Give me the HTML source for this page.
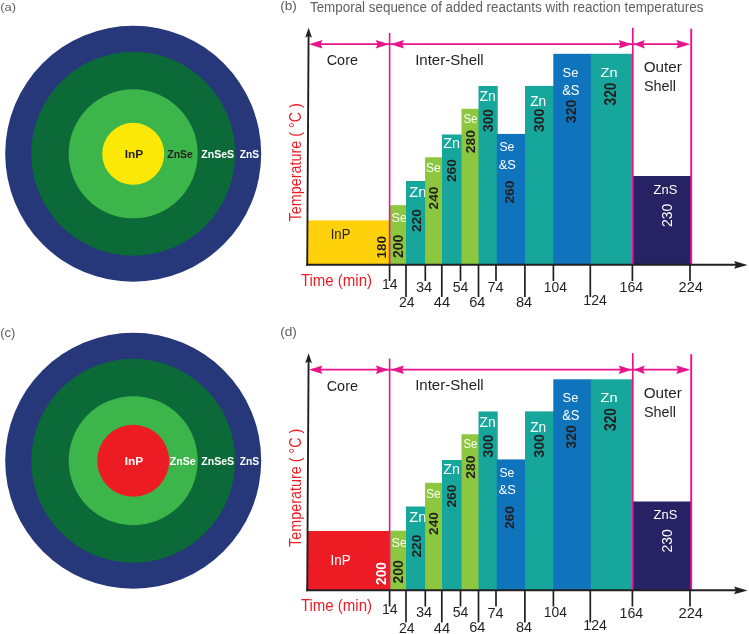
<!DOCTYPE html>
<html><head><meta charset="utf-8"><title>Figure</title>
<style>html,body{margin:0;padding:0;background:#fff;width:749px;height:634px;overflow:hidden}
svg{display:block;will-change:transform}
text{font-family:"Liberation Sans",sans-serif}</style></head>
<body><svg width="749" height="634" viewBox="0 0 749 634">
<rect width="749" height="634" fill="#fff"/>
<circle cx="133.2" cy="153.8" r="128" fill="#26377A"/>
<circle cx="133.2" cy="153.8" r="102" fill="#0B6A38"/>
<circle cx="133.2" cy="153.8" r="64.5" fill="#3CB54A"/>
<circle cx="133.2" cy="153.8" r="31" fill="#FBE806"/>
<text transform="translate(0.22,11.11) scale(1.142,1)" font-size="11.38" font-weight="400" fill="#606060">(a)</text>
<text transform="translate(124.66,158.00) scale(1.069,1)" font-size="11.16" font-weight="700" fill="#231F20">InP</text>
<text transform="translate(167.28,157.79) scale(0.981,1)" font-size="10.70" font-weight="700" fill="#231F20">ZnSe</text>
<text transform="translate(201.28,157.79) scale(0.986,1)" font-size="10.70" font-weight="700" fill="#FFFFFF">ZnSeS</text>
<text transform="translate(239.69,157.79) scale(0.960,1)" font-size="10.70" font-weight="700" fill="#FFFFFF">ZnS</text>
<circle cx="133.2" cy="460.7" r="128" fill="#26377A"/>
<circle cx="133.2" cy="460.7" r="102" fill="#0B6A38"/>
<circle cx="133.2" cy="460.7" r="64.5" fill="#3CB54A"/>
<circle cx="133.2" cy="460.7" r="36" fill="#ED1C24"/>
<text transform="translate(0.22,336.70) scale(1.016,1)" font-size="12.87" font-weight="400" fill="#606060">(c)</text>
<text transform="translate(124.66,465.00) scale(1.069,1)" font-size="11.16" font-weight="700" fill="#FFFFFF">InP</text>
<text transform="translate(169.68,464.89) scale(0.980,1)" font-size="10.85" font-weight="700" fill="#FFFFFF">ZnSe</text>
<text transform="translate(201.28,464.89) scale(0.974,1)" font-size="10.85" font-weight="700" fill="#FFFFFF">ZnSeS</text>
<text transform="translate(239.69,464.89) scale(0.947,1)" font-size="10.85" font-weight="700" fill="#FFFFFF">ZnS</text>
<rect x="307.5" y="220.4" width="82.90" height="44.099999999999994" fill="#FFD10A"/>
<text transform="translate(330.72,238.80) scale(0.922,1)" font-size="14.20" font-weight="400" fill="#231F20">InP</text>
<text transform="translate(386.06,258.51) rotate(-90) scale(0.988,1)" font-size="13.66" font-weight="700" fill="#231F20">180</text>
<rect x="389.5" y="205.2" width="17.40" height="59.30000000000001" fill="#8DC63F"/>
<text transform="translate(391.57,221.56) scale(0.926,1)" font-size="13.66" font-weight="400" fill="#FFFFFF">Se</text>
<text transform="translate(402.86,258.02) rotate(-90) scale(1.014,1)" font-size="13.80" font-weight="700" fill="#231F20">200</text>
<rect x="406" y="181" width="20.00" height="83.5" fill="#16A69C"/>
<text transform="translate(409.26,196.70) scale(1.029,1)" font-size="14.35" font-weight="400" fill="#FFFFFF">Zn</text>
<text transform="translate(420.87,232.11) rotate(-90) scale(1.085,1)" font-size="12.68" font-weight="700" fill="#231F20">220</text>
<rect x="425.1" y="157.3" width="17.80" height="107.19999999999999" fill="#8DC63F"/>
<text transform="translate(425.89,172.27) scale(0.906,1)" font-size="13.38" font-weight="400" fill="#FFFFFF">Se</text>
<text transform="translate(438.07,209.41) rotate(-90) scale(1.075,1)" font-size="12.68" font-weight="700" fill="#231F20">240</text>
<rect x="442" y="134.5" width="20.40" height="130.0" fill="#16A69C"/>
<text transform="translate(443.17,148.30) scale(1.045,1)" font-size="13.77" font-weight="400" fill="#FFFFFF">Zn</text>
<text transform="translate(456.47,182.11) rotate(-90) scale(1.078,1)" font-size="12.82" font-weight="700" fill="#231F20">260</text>
<rect x="461.5" y="108.8" width="17.90" height="155.7" fill="#8DC63F"/>
<text transform="translate(463.43,122.97) scale(0.884,1)" font-size="12.82" font-weight="400" fill="#FFFFFF">Se</text>
<text transform="translate(475.47,153.32) rotate(-90) scale(1.087,1)" font-size="12.82" font-weight="700" fill="#231F20">280</text>
<rect x="478.5" y="86" width="19.20" height="178.5" fill="#16A69C"/>
<text transform="translate(479.38,101.20) scale(1.001,1)" font-size="13.91" font-weight="400" fill="#FFFFFF">Zn</text>
<text transform="translate(492.56,131.98) rotate(-90) scale(0.989,1)" font-size="13.94" font-weight="700" fill="#231F20">300</text>
<rect x="496.8" y="133.9" width="29.10" height="130.6" fill="#0F74BB"/>
<text transform="translate(499.39,151.47) scale(0.974,1)" font-size="12.54" font-weight="400" fill="#FFFFFF">Se</text>
<text transform="translate(498.78,168.57) scale(0.963,1)" font-size="13.38" font-weight="400" fill="#FFFFFF">&amp;S</text>
<text transform="translate(514.06,203.62) rotate(-90) scale(1.026,1)" font-size="13.52" font-weight="700" fill="#231F20">260</text>
<rect x="525" y="85.9" width="29.20" height="178.6" fill="#16A69C"/>
<text transform="translate(530.19,106.30) scale(0.981,1)" font-size="13.91" font-weight="400" fill="#FFFFFF">Zn</text>
<text transform="translate(543.86,132.29) rotate(-90) scale(1.014,1)" font-size="14.08" font-weight="700" fill="#231F20">300</text>
<rect x="553.3" y="53.8" width="38.40" height="210.7" fill="#0F74BB"/>
<text transform="translate(562.55,76.67) scale(1.008,1)" font-size="12.82" font-weight="400" fill="#FFFFFF">Se</text>
<text transform="translate(562.18,94.55) scale(0.842,1)" font-size="15.49" font-weight="400" fill="#FFFFFF">&amp;S</text>
<text transform="translate(575.86,123.18) rotate(-90) scale(1.001,1)" font-size="14.08" font-weight="700" fill="#231F20">320</text>
<rect x="590.8" y="53.8" width="42.10" height="210.7" fill="#16A69C"/>
<text transform="translate(600.57,76.80) scale(1.098,1)" font-size="13.19" font-weight="400" fill="#FFFFFF">Zn</text>
<text transform="translate(615.54,105.48) rotate(-90) scale(0.882,1)" font-size="15.63" font-weight="700" fill="#231F20">320</text>
<rect x="632" y="176" width="59.00" height="88.5" fill="#262263"/>
<text transform="translate(653.61,193.66) scale(0.954,1)" font-size="13.52" font-weight="400" fill="#FFFFFF">ZnS</text>
<text transform="translate(672.16,226.90) rotate(-90) scale(0.979,1)" font-size="14.23" font-weight="400" fill="#FFFFFF">230</text>
<line x1="389.6" y1="33" x2="389.6" y2="264.5" stroke="#E8148C" stroke-width="1.6"/>
<line x1="632.8" y1="27.7" x2="632.8" y2="264.5" stroke="#E8148C" stroke-width="1.7"/>
<line x1="691.2" y1="28.7" x2="691.2" y2="264.5" stroke="#E8148C" stroke-width="1.9"/>
<line x1="312" y1="44.2" x2="687" y2="44.2" stroke="#E8148C" stroke-width="1.7"/>
<polygon points="309,44.2 322.4,40.0 320.6,44.2 322.4,48.400000000000006" fill="#E8148C"/>
<polygon points="389,44.2 375.8,40.0 377.6,44.2 375.8,48.400000000000006" fill="#E8148C"/>
<polygon points="390.5,44.2 403.9,40.0 402.1,44.2 403.9,48.400000000000006" fill="#E8148C"/>
<polygon points="632,44.2 618.7,40.0 620.5,44.2 618.7,48.400000000000006" fill="#E8148C"/>
<polygon points="633.6,44.2 644.8000000000001,40.0 643.0,44.2 644.8000000000001,48.400000000000006" fill="#E8148C"/>
<polygon points="690.3,44.2 676.3,40.0 678.0999999999999,44.2 676.3,48.400000000000006" fill="#E8148C"/>
<line x1="308.6" y1="32" x2="307.2" y2="265.8" stroke="#231F20" stroke-width="1.9"/>
<polygon points="308.6,27.8 312,37.8 308.6,35.8 305.2,37.8" fill="#231F20"/>
<line x1="306.3" y1="264.8" x2="740" y2="264.8" stroke="#231F20" stroke-width="1.9"/>
<polygon points="747.5,264.9 734.1,261.1 736,264.9 734.1,268.7" fill="#231F20"/>
<line x1="389.6" y1="265" x2="389.6" y2="281" stroke="#231F20" stroke-width="1.7"/>
<line x1="406" y1="265" x2="406" y2="297" stroke="#231F20" stroke-width="1.7"/>
<line x1="425.3" y1="265" x2="425.3" y2="281" stroke="#231F20" stroke-width="1.7"/>
<line x1="441.8" y1="265" x2="441.8" y2="297" stroke="#231F20" stroke-width="1.7"/>
<line x1="460.5" y1="265" x2="460.5" y2="281" stroke="#231F20" stroke-width="1.7"/>
<line x1="478.5" y1="265" x2="478.5" y2="297" stroke="#231F20" stroke-width="1.7"/>
<line x1="496" y1="265" x2="496" y2="281" stroke="#231F20" stroke-width="1.7"/>
<line x1="524.9" y1="265" x2="524.9" y2="297" stroke="#231F20" stroke-width="1.7"/>
<line x1="553.4" y1="265" x2="553.4" y2="281" stroke="#231F20" stroke-width="1.7"/>
<line x1="590.3" y1="265" x2="590.3" y2="297" stroke="#231F20" stroke-width="1.7"/>
<line x1="632.4" y1="265" x2="632.4" y2="281" stroke="#231F20" stroke-width="1.7"/>
<line x1="690" y1="265" x2="690" y2="281" stroke="#231F20" stroke-width="1.7"/>
<text transform="translate(381.97,288.70) scale(0.973,1)" font-size="14.49" font-weight="400" fill="#231F20">14</text>
<text transform="translate(398.90,307.00) scale(0.979,1)" font-size="14.29" font-weight="400" fill="#231F20">24</text>
<text transform="translate(415.92,291.86) scale(1.038,1)" font-size="14.08" font-weight="400" fill="#231F20">34</text>
<text transform="translate(433.71,307.15) scale(1.001,1)" font-size="14.71" font-weight="400" fill="#231F20">44</text>
<text transform="translate(452.73,291.86) scale(0.989,1)" font-size="14.29" font-weight="400" fill="#231F20">54</text>
<text transform="translate(469.27,306.86) scale(1.034,1)" font-size="14.08" font-weight="400" fill="#231F20">64</text>
<text transform="translate(487.58,292.15) scale(0.984,1)" font-size="14.71" font-weight="400" fill="#231F20">74</text>
<text transform="translate(515.92,306.86) scale(1.031,1)" font-size="14.08" font-weight="400" fill="#231F20">84</text>
<text transform="translate(543.79,291.86) scale(0.983,1)" font-size="14.08" font-weight="400" fill="#231F20">104</text>
<text transform="translate(583.37,304.70) scale(0.972,1)" font-size="14.57" font-weight="400" fill="#231F20">124</text>
<text transform="translate(619.46,292.06) scale(0.991,1)" font-size="14.37" font-weight="400" fill="#231F20">164</text>
<text transform="translate(678.57,292.00) scale(1.026,1)" font-size="14.29" font-weight="400" fill="#231F20">224</text>
<text transform="translate(326.68,65.05) scale(0.932,1)" font-size="15.49" font-weight="400" fill="#231F20">Core</text>
<text transform="translate(415.15,64.65) scale(1.003,1)" font-size="15.00" font-weight="400" fill="#231F20">Inter-Shell</text>
<text transform="translate(643.74,72.25) scale(1.023,1)" font-size="14.93" font-weight="400" fill="#231F20">Outer</text>
<text transform="translate(643.88,91.35) scale(0.969,1)" font-size="14.86" font-weight="400" fill="#231F20">Shell</text>
<text transform="translate(300.90,285.60) scale(0.942,1)" font-size="15.94" font-weight="400" fill="#ED1C24">Time (min)</text>
<text transform="translate(301.40,221.39) rotate(-90) scale(0.918,1)" font-size="15.65" font-weight="400" fill="#ED1C24">Temperature ( °C )</text>
<text transform="translate(280.18,10.47) scale(1.051,1)" font-size="12.98" font-weight="400" fill="#606060">(b)</text>
<text transform="translate(309.93,11.76) scale(0.928,1)" font-size="14.47" font-weight="400" fill="#606060">Temporal sequence of added reactants with reaction temperatures</text>
<rect x="307.5" y="531.0" width="82.90" height="59.0" fill="#ED1C24"/>
<text transform="translate(330.49,564.50) scale(0.947,1)" font-size="14.20" font-weight="400" fill="#FFFFFF">InP</text>
<text transform="translate(386.06,584.91) rotate(-90) scale(0.976,1)" font-size="14.08" font-weight="700" fill="#FFFFFF">200</text>
<rect x="389.5" y="530.7" width="17.40" height="59.30000000000001" fill="#8DC63F"/>
<text transform="translate(391.57,547.06) scale(0.926,1)" font-size="13.66" font-weight="400" fill="#FFFFFF">Se</text>
<text transform="translate(402.86,583.52) rotate(-90) scale(1.014,1)" font-size="13.80" font-weight="700" fill="#231F20">200</text>
<rect x="406" y="506.5" width="20.00" height="83.5" fill="#16A69C"/>
<text transform="translate(409.26,522.20) scale(1.029,1)" font-size="14.35" font-weight="400" fill="#FFFFFF">Zn</text>
<text transform="translate(420.87,557.61) rotate(-90) scale(1.085,1)" font-size="12.68" font-weight="700" fill="#231F20">220</text>
<rect x="425.1" y="482.8" width="17.80" height="107.19999999999999" fill="#8DC63F"/>
<text transform="translate(425.89,497.77) scale(0.906,1)" font-size="13.38" font-weight="400" fill="#FFFFFF">Se</text>
<text transform="translate(438.07,534.91) rotate(-90) scale(1.075,1)" font-size="12.68" font-weight="700" fill="#231F20">240</text>
<rect x="442" y="460.0" width="20.40" height="130.0" fill="#16A69C"/>
<text transform="translate(443.17,473.80) scale(1.045,1)" font-size="13.77" font-weight="400" fill="#FFFFFF">Zn</text>
<text transform="translate(456.47,507.61) rotate(-90) scale(1.078,1)" font-size="12.82" font-weight="700" fill="#231F20">260</text>
<rect x="461.5" y="434.3" width="17.90" height="155.7" fill="#8DC63F"/>
<text transform="translate(463.43,448.47) scale(0.884,1)" font-size="12.82" font-weight="400" fill="#FFFFFF">Se</text>
<text transform="translate(475.47,478.82) rotate(-90) scale(1.087,1)" font-size="12.82" font-weight="700" fill="#231F20">280</text>
<rect x="478.5" y="411.5" width="19.20" height="178.5" fill="#16A69C"/>
<text transform="translate(479.38,426.70) scale(1.001,1)" font-size="13.91" font-weight="400" fill="#FFFFFF">Zn</text>
<text transform="translate(492.56,457.48) rotate(-90) scale(0.989,1)" font-size="13.94" font-weight="700" fill="#231F20">300</text>
<rect x="496.8" y="459.4" width="29.10" height="130.6" fill="#0F74BB"/>
<text transform="translate(499.39,476.97) scale(0.974,1)" font-size="12.54" font-weight="400" fill="#FFFFFF">Se</text>
<text transform="translate(498.78,494.07) scale(0.963,1)" font-size="13.38" font-weight="400" fill="#FFFFFF">&amp;S</text>
<text transform="translate(514.06,529.12) rotate(-90) scale(1.026,1)" font-size="13.52" font-weight="700" fill="#231F20">260</text>
<rect x="525" y="411.4" width="29.20" height="178.6" fill="#16A69C"/>
<text transform="translate(530.19,431.80) scale(0.981,1)" font-size="13.91" font-weight="400" fill="#FFFFFF">Zn</text>
<text transform="translate(543.86,457.79) rotate(-90) scale(1.014,1)" font-size="14.08" font-weight="700" fill="#231F20">300</text>
<rect x="553.3" y="379.3" width="38.40" height="210.7" fill="#0F74BB"/>
<text transform="translate(562.55,402.17) scale(1.008,1)" font-size="12.82" font-weight="400" fill="#FFFFFF">Se</text>
<text transform="translate(562.18,420.05) scale(0.842,1)" font-size="15.49" font-weight="400" fill="#FFFFFF">&amp;S</text>
<text transform="translate(575.86,448.68) rotate(-90) scale(1.001,1)" font-size="14.08" font-weight="700" fill="#231F20">320</text>
<rect x="590.8" y="379.3" width="42.10" height="210.7" fill="#16A69C"/>
<text transform="translate(600.57,402.30) scale(1.098,1)" font-size="13.19" font-weight="400" fill="#FFFFFF">Zn</text>
<text transform="translate(615.54,430.98) rotate(-90) scale(0.882,1)" font-size="15.63" font-weight="700" fill="#231F20">320</text>
<rect x="632" y="501.5" width="59.00" height="88.5" fill="#262263"/>
<text transform="translate(653.61,519.16) scale(0.954,1)" font-size="13.52" font-weight="400" fill="#FFFFFF">ZnS</text>
<text transform="translate(672.16,552.40) rotate(-90) scale(0.979,1)" font-size="14.23" font-weight="400" fill="#FFFFFF">230</text>
<line x1="389.6" y1="358.5" x2="389.6" y2="590.0" stroke="#E8148C" stroke-width="1.6"/>
<line x1="632.8" y1="353.2" x2="632.8" y2="590.0" stroke="#E8148C" stroke-width="1.7"/>
<line x1="691.2" y1="354.2" x2="691.2" y2="590.0" stroke="#E8148C" stroke-width="1.9"/>
<line x1="312" y1="369.7" x2="687" y2="369.7" stroke="#E8148C" stroke-width="1.7"/>
<polygon points="309,369.7 322.4,365.5 320.6,369.7 322.4,373.9" fill="#E8148C"/>
<polygon points="389,369.7 375.8,365.5 377.6,369.7 375.8,373.9" fill="#E8148C"/>
<polygon points="390.5,369.7 403.9,365.5 402.1,369.7 403.9,373.9" fill="#E8148C"/>
<polygon points="632,369.7 618.7,365.5 620.5,369.7 618.7,373.9" fill="#E8148C"/>
<polygon points="633.6,369.7 644.8000000000001,365.5 643.0,369.7 644.8000000000001,373.9" fill="#E8148C"/>
<polygon points="690.3,369.7 676.3,365.5 678.0999999999999,369.7 676.3,373.9" fill="#E8148C"/>
<line x1="308.6" y1="357.5" x2="307.2" y2="591.3" stroke="#231F20" stroke-width="1.9"/>
<polygon points="308.6,353.3 312,363.3 308.6,361.3 305.2,363.3" fill="#231F20"/>
<line x1="306.3" y1="590.3" x2="740" y2="590.3" stroke="#231F20" stroke-width="1.9"/>
<polygon points="747.5,590.4 734.1,586.6 736,590.4 734.1,594.2" fill="#231F20"/>
<line x1="389.6" y1="590.5" x2="389.6" y2="606.5" stroke="#231F20" stroke-width="1.7"/>
<line x1="406" y1="590.5" x2="406" y2="622.5" stroke="#231F20" stroke-width="1.7"/>
<line x1="425.3" y1="590.5" x2="425.3" y2="606.5" stroke="#231F20" stroke-width="1.7"/>
<line x1="441.8" y1="590.5" x2="441.8" y2="622.5" stroke="#231F20" stroke-width="1.7"/>
<line x1="460.5" y1="590.5" x2="460.5" y2="606.5" stroke="#231F20" stroke-width="1.7"/>
<line x1="478.5" y1="590.5" x2="478.5" y2="622.5" stroke="#231F20" stroke-width="1.7"/>
<line x1="496" y1="590.5" x2="496" y2="606.5" stroke="#231F20" stroke-width="1.7"/>
<line x1="524.9" y1="590.5" x2="524.9" y2="622.5" stroke="#231F20" stroke-width="1.7"/>
<line x1="553.4" y1="590.5" x2="553.4" y2="606.5" stroke="#231F20" stroke-width="1.7"/>
<line x1="590.3" y1="590.5" x2="590.3" y2="622.5" stroke="#231F20" stroke-width="1.7"/>
<line x1="632.4" y1="590.5" x2="632.4" y2="606.5" stroke="#231F20" stroke-width="1.7"/>
<line x1="690" y1="590.5" x2="690" y2="606.5" stroke="#231F20" stroke-width="1.7"/>
<text transform="translate(381.97,614.20) scale(0.973,1)" font-size="14.49" font-weight="400" fill="#231F20">14</text>
<text transform="translate(398.90,632.50) scale(0.979,1)" font-size="14.29" font-weight="400" fill="#231F20">24</text>
<text transform="translate(415.92,617.36) scale(1.038,1)" font-size="14.08" font-weight="400" fill="#231F20">34</text>
<text transform="translate(433.71,632.65) scale(1.001,1)" font-size="14.71" font-weight="400" fill="#231F20">44</text>
<text transform="translate(452.73,617.36) scale(0.989,1)" font-size="14.29" font-weight="400" fill="#231F20">54</text>
<text transform="translate(469.27,632.36) scale(1.034,1)" font-size="14.08" font-weight="400" fill="#231F20">64</text>
<text transform="translate(487.58,617.65) scale(0.984,1)" font-size="14.71" font-weight="400" fill="#231F20">74</text>
<text transform="translate(515.92,632.36) scale(1.031,1)" font-size="14.08" font-weight="400" fill="#231F20">84</text>
<text transform="translate(543.79,617.36) scale(0.983,1)" font-size="14.08" font-weight="400" fill="#231F20">104</text>
<text transform="translate(583.37,630.20) scale(0.972,1)" font-size="14.57" font-weight="400" fill="#231F20">124</text>
<text transform="translate(619.46,617.56) scale(0.991,1)" font-size="14.37" font-weight="400" fill="#231F20">164</text>
<text transform="translate(678.57,617.50) scale(1.026,1)" font-size="14.29" font-weight="400" fill="#231F20">224</text>
<text transform="translate(326.68,390.55) scale(0.932,1)" font-size="15.49" font-weight="400" fill="#231F20">Core</text>
<text transform="translate(415.15,390.15) scale(1.003,1)" font-size="15.00" font-weight="400" fill="#231F20">Inter-Shell</text>
<text transform="translate(643.74,397.75) scale(1.023,1)" font-size="14.93" font-weight="400" fill="#231F20">Outer</text>
<text transform="translate(643.88,416.85) scale(0.969,1)" font-size="14.86" font-weight="400" fill="#231F20">Shell</text>
<text transform="translate(300.90,611.10) scale(0.942,1)" font-size="15.94" font-weight="400" fill="#ED1C24">Time (min)</text>
<text transform="translate(301.40,546.89) rotate(-90) scale(0.918,1)" font-size="15.65" font-weight="400" fill="#ED1C24">Temperature ( °C )</text>
<text transform="translate(280.18,336.12) scale(1.068,1)" font-size="12.77" font-weight="400" fill="#606060">(d)</text>
</svg></body></html>
